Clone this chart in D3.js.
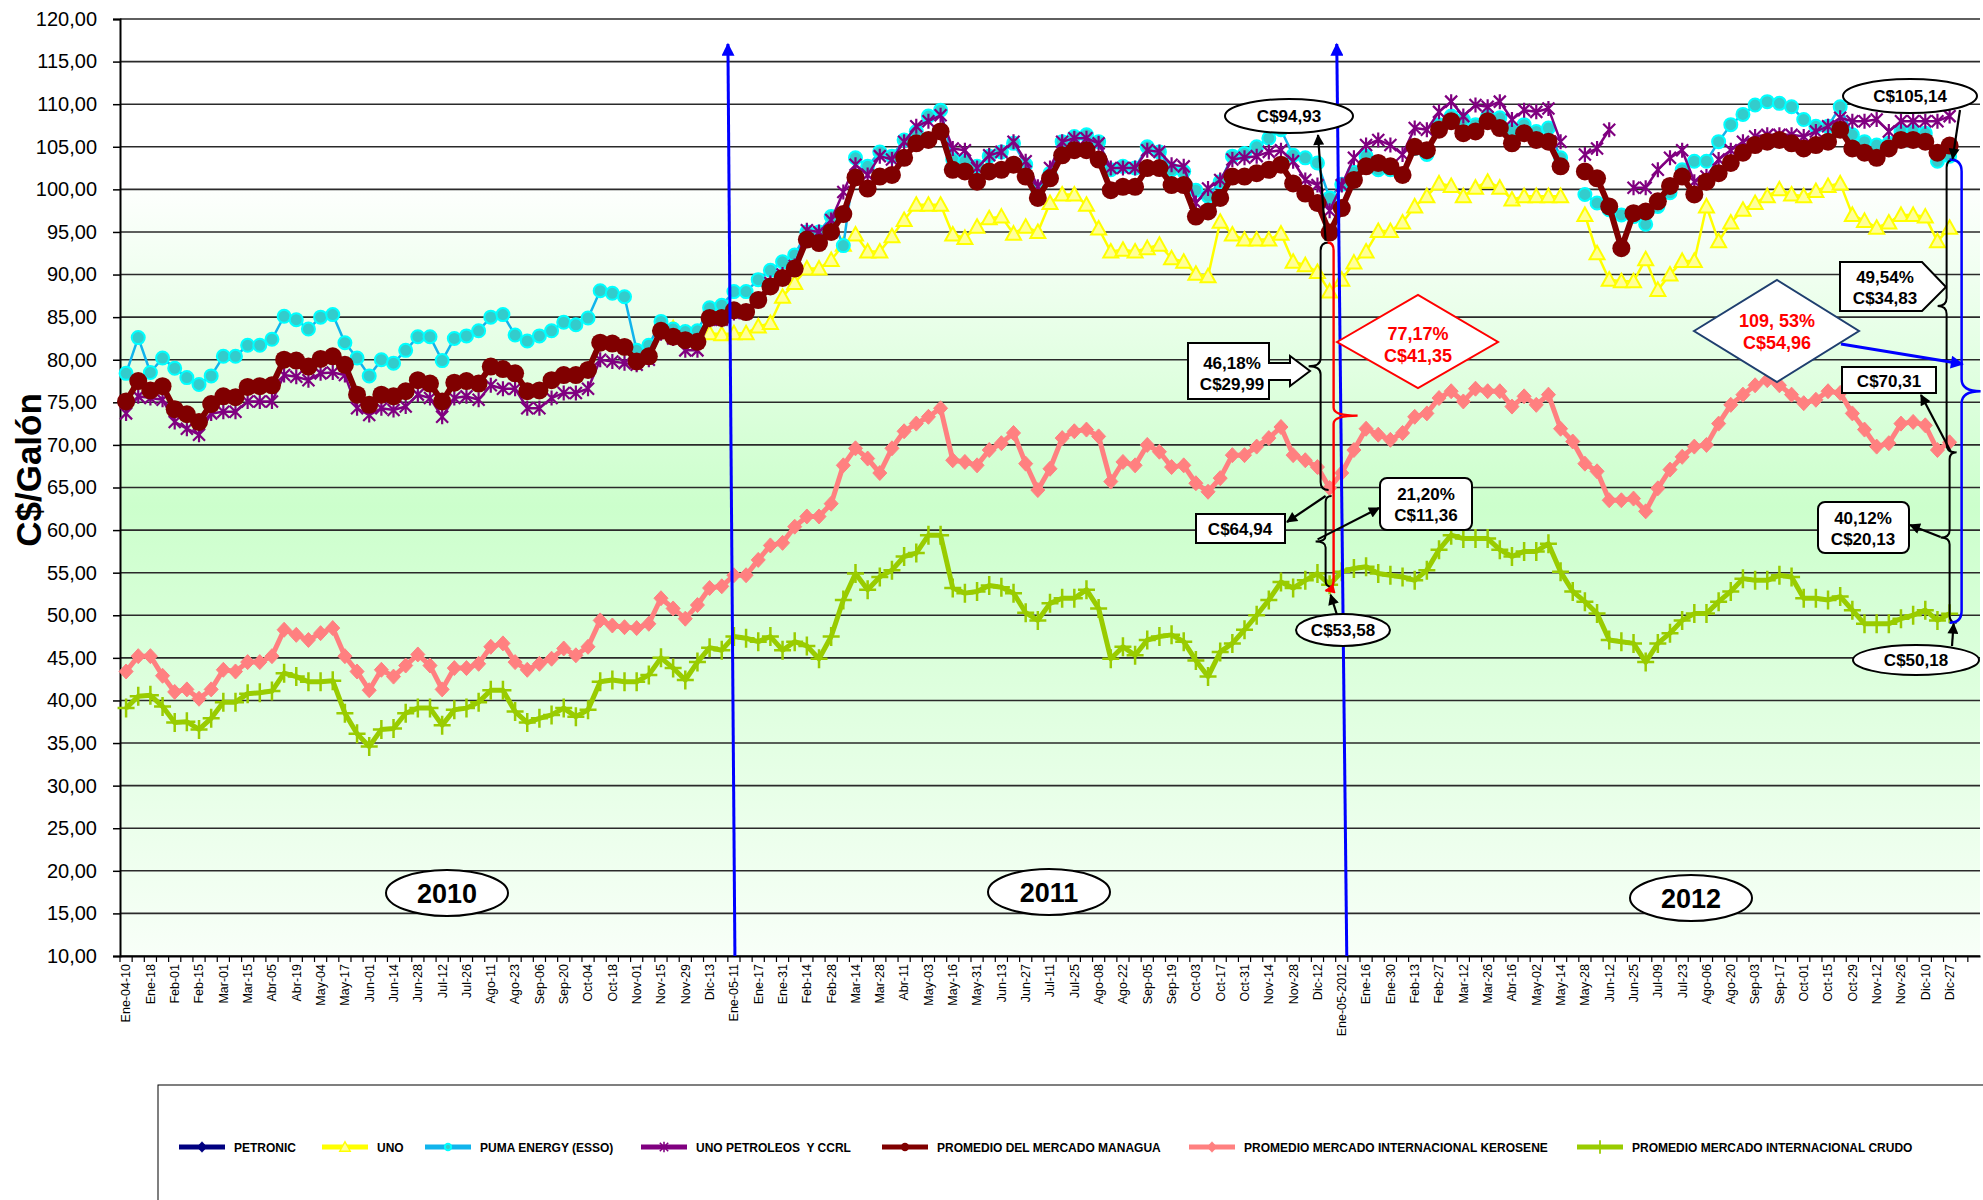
<!DOCTYPE html>
<html><head><meta charset="utf-8">
<script src="https://cdn.jsdelivr.net/npm/d3@7"></script>
<style>
body{margin:0;background:#fff}
svg{display:block}
text{font-family:"Liberation Sans",Arial,Helvetica,sans-serif}
</style>
</head><body>
<svg id="c" width="1983" height="1200"></svg>
<script>
// ---------------- DATA ----------------
const categories = [
"Ene-04-10","Ene-11","Ene-18","Ene-25","Feb-01","Feb-08","Feb-15","Feb-22","Mar-01","Mar-08","Mar-15","Mar-22","Abr-05","Abr-12","Abr-19","Abr-26","May-04","May-10","May-17","May-24","Jun-01","Jun-07","Jun-14","Jun-21","Jun-28","Jul-05","Jul-12","Jul-19","Jul-26","Ago-02","Ago-11","Ago-16","Ago-23","Ago-30","Sep-06","Sep-13","Sep-20","Sep-27","Oct-04","Oct-11","Oct-18","Oct-25","Nov-01","Nov-08","Nov-15","Nov-22","Nov-29","Dic-06","Dic-13","Dic-20",
"Ene-05-11","Ene-10","Ene-17","Ene-24","Ene-31","Feb-07","Feb-14","Feb-21","Feb-28","Mar-07","Mar-14","Mar-21","Mar-28","Abr-04","Abr-11","Abr-25","May-03","May-09","May-16","May-23","May-31","Jun-06","Jun-13","Jun-20","Jun-27","Jul-04","Jul-11","Jul-18","Jul-25","Ago-01","Ago-08","Ago-15","Ago-22","Ago-29","Sep-05","Sep-12","Sep-19","Sep-26","Oct-03","Oct-10","Oct-17","Oct-24","Oct-31","Nov-07","Nov-14","Nov-21","Nov-28","Dic-05","Dic-12","Dic-26",
"Ene-05-2012","Ene-09","Ene-16","Ene-23","Ene-30","Feb-06","Feb-13","Feb-20","Feb-27","Mar-05","Mar-12","Mar-19","Mar-26","Abr-09","Abr-16","Abr-23","May-02","May-07","May-14","May-21","May-28","Jun-04","Jun-12","Jun-18","Jun-25","Jul-02","Jul-09","Jul-16","Jul-23","Jul-30","Ago-06","Ago-13","Ago-20","Ago-27","Sep-03","Sep-10","Sep-17","Sep-24","Oct-01","Oct-08","Oct-15","Oct-22","Oct-29","Nov-05","Nov-12","Nov-19","Nov-26","Dic-03","Dic-10","Dic-17","Dic-27"
];

const petronic = []; // sin valores visibles en el gráfico

const uno = [
null,null,null,null,null,null,null,null,null,null,
null,null,null,null,null,null,null,null,null,null,
null,null,null,null,null,null,null,null,null,null,
null,null,null,null,null,null,null,null,null,null,
null,null,null,null,null,83.7,83.1,83.1,83.1,83.0,
83.1,83.1,83.9,84.3,87.4,89.0,90.7,90.7,91.7,93.5,
94.7,92.7,92.7,94.5,96.4,98.2,98.2,98.2,94.7,94.3,
95.6,96.6,96.8,94.8,95.6,95.0,98.4,99.4,99.4,98.2,
95.4,92.7,92.9,92.7,93.1,93.5,91.9,91.5,90.1,89.8,
96.2,94.7,94.1,94.1,94.1,94.8,91.5,91.1,90.3,88.0,
89.4,91.4,92.7,95.1,95.1,96.1,98.0,99.2,100.7,100.4,
99.2,100.2,100.9,100.2,98.8,99.2,99.2,99.2,99.2,null,
97.0,92.5,89.4,89.2,89.2,91.8,88.2,90.0,91.6,91.6,
98.0,93.9,96.1,97.6,98.4,99.2,100.0,99.4,99.2,99.8,
100.4,100.7,97.0,96.3,95.5,96.1,97.0,97.0,96.8,93.9,
95.5];

const puma = [
78.4,82.6,78.5,80.2,79.0,77.9,77.1,78.1,80.4,80.4,
81.7,81.7,82.4,85.1,84.7,83.6,85.0,85.3,82.0,80.2,
78.1,80.0,79.6,81.1,82.7,82.7,79.9,82.5,82.8,83.4,
85.0,85.3,82.9,82.2,82.8,83.4,84.4,84.1,84.9,88.1,
87.8,87.4,81.1,81.7,84.5,83.6,83.3,83.4,86.1,86.4,
88.0,88.0,89.4,90.5,91.5,92.3,95.0,95.0,96.8,93.4,
103.7,102.7,104.4,103.9,105.8,106.8,108.6,109.3,103.5,103.3,
102.7,103.9,104.4,105.4,102.9,99.9,101.9,105.6,106.2,106.4,
105.6,102.3,102.7,102.5,105.0,104.4,102.3,102.1,99.9,99.2,
100.9,103.9,104.2,105.0,106.0,107.0,104.0,103.7,103.1,99.0,
100.6,102.0,103.9,102.3,102.3,101.7,104.8,104.1,107.6,108.6,
108.2,107.6,108.6,108.4,107.0,107.6,106.8,107.2,103.7,null,
99.4,98.4,97.6,97.0,96.8,95.9,98.0,99.6,102.3,103.3,
103.3,105.6,107.6,108.8,109.9,110.3,110.1,109.7,108.2,107.4,
107.4,109.7,106.4,105.6,105.2,105.4,106.8,106.8,106.6,103.3,
103.9];

const unoPetroleos = [
73.7,75.7,75.5,75.3,72.7,71.9,71.2,73.7,73.9,73.9,
75.1,75.1,75.1,78.2,78.0,77.6,78.4,78.5,78.2,74.3,
73.5,74.3,74.1,74.5,75.9,75.5,73.3,75.5,75.7,75.3,
77.0,76.6,76.6,74.3,74.3,75.5,76.1,76.1,76.6,80.0,
79.8,79.6,79.4,80.0,83.1,82.5,81.1,81.1,84.7,84.7,
85.5,85.5,87.0,89.0,90.0,91.0,95.2,95.0,96.4,99.7,
102.9,101.7,103.9,103.5,105.6,107.4,108.0,108.7,104.8,104.6,
102.5,104.0,104.4,105.6,103.3,100.3,102.5,105.6,106.0,106.0,
105.4,102.5,102.5,102.5,104.6,104.4,102.9,102.7,98.4,100.1,
101.1,103.5,103.7,103.9,104.4,104.6,103.3,101.1,100.5,97.5,
100.5,103.7,105.2,105.8,105.2,104.1,107.2,107.0,109.1,110.3,
108.6,109.9,109.7,110.3,108.2,109.3,109.1,109.5,105.6,null,
104.1,104.8,107.0,null,100.2,100.2,102.3,103.7,104.6,100.9,
101.5,103.5,104.6,105.6,106.2,106.4,106.4,106.4,106.2,106.8,
107.4,108.4,108.0,108.0,108.2,106.8,108.0,108.0,108.0,108.0,
108.6];

const promedioManagua = [
75.1,77.5,76.4,76.9,74.2,73.6,72.7,74.8,75.7,75.6,
76.8,76.9,77.0,80.0,79.9,79.2,80.1,80.4,79.4,75.9,
74.7,75.9,75.7,76.3,77.6,77.2,75.1,77.3,77.5,77.2,
79.2,78.9,78.4,76.3,76.4,77.6,78.2,78.2,78.8,82.0,
81.9,81.5,79.8,80.4,83.4,82.7,82.3,82.1,84.9,84.9,
85.8,85.6,87.0,88.6,89.6,90.7,94.1,93.7,95.0,97.1,
101.4,100.1,101.5,101.7,103.7,105.4,105.8,106.8,102.3,102.1,
100.9,102.1,102.3,102.9,101.5,99.0,101.3,104.0,104.6,104.6,
103.5,99.9,100.3,100.3,102.5,102.5,100.5,100.5,96.8,97.4,
99.0,101.5,101.5,101.9,102.3,102.9,100.7,99.5,98.4,94.93,
97.8,101.1,102.7,103.1,102.7,101.7,105.0,104.6,107.0,108.0,
106.6,106.8,108.0,107.2,105.4,106.6,105.8,105.6,102.7,null,
102.1,101.3,98.0,93.1,97.2,97.4,98.6,100.4,101.5,99.4,
100.9,101.9,103.1,104.3,105.2,105.6,105.8,105.4,104.8,105.2,
105.6,107.0,104.8,104.3,103.7,104.8,105.8,105.8,105.6,104.3,
105.14];

const keroseneInternacional = [
43.4,45.2,45.2,42.9,41.0,41.3,40.2,41.3,43.6,43.4,
44.5,44.5,45.2,48.3,47.7,47.1,47.9,48.5,45.2,43.4,
41.2,43.6,42.8,44.1,45.4,44.1,41.3,43.8,43.8,44.3,
46.3,46.7,44.5,43.6,44.3,44.9,46.1,45.3,46.3,49.4,
48.8,48.6,48.5,49.0,52.0,50.8,49.6,51.2,53.2,53.4,
54.7,54.7,56.5,58.2,58.5,60.4,61.6,61.6,63.1,67.6,
69.6,68.4,66.7,69.6,71.6,72.5,73.3,74.3,68.2,68.0,
67.6,69.4,70.2,71.4,67.8,64.7,67.2,70.8,71.6,71.8,
71.0,65.7,68.0,67.6,70.0,69.2,67.4,67.6,65.5,64.5,
66.1,68.8,68.8,69.8,70.8,72.1,68.8,68.2,67.4,64.94,
66.7,69.4,71.9,71.2,70.6,71.4,73.3,73.7,75.5,76.3,
75.1,76.6,76.3,76.3,74.5,75.7,74.7,75.9,71.9,70.4,
67.8,66.9,63.5,63.5,63.7,62.2,64.9,67.1,68.6,69.8,
70.0,72.5,74.7,75.9,77.0,77.6,77.0,75.9,74.9,75.3,
76.3,76.1,73.7,71.8,69.8,70.2,72.5,72.7,72.3,69.4,
70.31];

const crudoInternacional = [
39.1,40.5,40.6,39.3,37.4,37.5,36.6,37.9,39.8,39.8,
40.8,40.9,41.1,43.2,42.8,42.2,42.2,42.3,38.5,36.1,
34.6,36.6,36.7,38.5,39.1,39.1,37.1,38.9,39.1,39.8,
41.2,41.2,38.7,37.4,37.9,38.3,39.1,38.1,38.9,42.2,
42.4,42.2,42.2,43.0,45.0,43.8,42.4,44.5,46.2,45.9,
47.5,47.3,46.9,47.5,45.9,46.9,46.4,44.9,47.5,51.8,
54.9,53.0,54.5,55.3,56.9,57.3,59.4,59.4,53.2,52.6,
52.8,53.5,53.3,52.6,50.3,49.4,51.4,52.0,52.0,53.0,
50.8,44.9,46.3,45.3,47.1,47.5,47.7,46.9,44.7,42.8,
45.7,46.7,48.3,50.0,51.8,53.9,53.2,54.1,54.9,53.58,
55.1,55.5,55.7,54.9,54.7,54.5,54.1,55.3,57.7,59.4,
59.0,59.0,59.0,57.7,56.9,57.5,57.5,58.4,55.1,52.8,
51.6,50.2,47.1,46.9,46.7,44.5,46.7,47.9,49.4,50.2,
50.2,51.6,52.8,54.3,54.1,54.1,54.7,54.5,52.0,52.0,
51.8,52.2,50.6,49.0,49.0,49.0,49.6,50.0,50.6,49.4,
50.18];

const seriesNames = ["PETRONIC","UNO","PUMA ENERGY (ESSO)","UNO PETROLEOS  Y CCRL","PROMEDIO DEL MERCADO MANAGUA","PROMEDIO MERCADO INTERNACIONAL KEROSENE","PROMEDIO MERCADO INTERNACIONAL CRUDO"];
const yearLabels = ["2010","2011","2012"];
const yTickValues = [10,15,20,25,30,35,40,45,50,55,60,65,70,75,80,85,90,95,100,105,110,115,120];
const yTitle = "C$/Galón";

// annotation texts
const annoTexts = {
  m99:"C$94,93", m150:"C$105,14", c99:"C$53,58", c150:"C$50,18",
  k99:"C$64,94", k150:"C$70,31",
  mk99:["46,18%","C$29,99"], kc99:["21,20%","C$11,36"], mc99:["77,17%","C$41,35"],
  mk150:["49,54%","C$34,83"], kc150:["40,12%","C$20,13"], mc150:["109, 53%","C$54,96"]
};

// ---------------- LAYOUT ----------------
const svg = d3.select("#c");
const L = 120, R = 1980, T = 19, B = 956;
const defs = svg.append("defs");

const bg = defs.append("linearGradient").attr("id","bg").attr("x1",0).attr("y1",0).attr("x2",0).attr("y2",1);
[[0,"#ffffff"],[0.17,"#ffffff"],[0.52,"#ccffcc"],[1,"#f8fff8"]].forEach(s=>bg.append("stop").attr("offset",s[0]).attr("stop-color",s[1]));

function mkArrow(id, color, w, h){
  defs.append("marker").attr("id",id).attr("viewBox","0 0 10 10").attr("refX",9).attr("refY",5)
    .attr("markerWidth",w).attr("markerHeight",h).attr("markerUnits","userSpaceOnUse").attr("orient","auto")
    .append("path").attr("d","M0,0L10,5L0,10Z").attr("fill",color);
}
mkArrow("ahK","#000",14,11);
mkArrow("ahB","#0000ff",20,13);
mkArrow("ahR","#ff0000",12,10);

const x = d3.scaleBand().domain(d3.range(categories.length + 2)).range([L,R]);
const bw = x.bandwidth();
const cx = i => x(i) + bw/2;
const y = d3.scaleLinear().domain([10,120]).range([B,T]);

svg.append("rect").attr("x",L).attr("y",T).attr("width",R-L).attr("height",B-T).attr("fill","url(#bg)");

// gridlines
svg.append("g").selectAll("line").data(yTickValues).join("line")
  .attr("x1",L).attr("x2",R).attr("y1",d=>y(d)).attr("y2",d=>y(d))
  .attr("stroke","#2a2a2a").attr("stroke-width",1.6);

// y axis
const loc = d3.formatLocale({decimal:",",thousands:".",grouping:[3],currency:["",""]});
const fmt = loc.format(".2f");
const yAxis = svg.append("g").attr("transform",`translate(${L},0)`)
  .call(d3.axisLeft(y).tickValues(yTickValues).tickSize(7).tickPadding(16).tickFormat(fmt));
yAxis.select(".domain").attr("stroke","#000").attr("stroke-width",2);
yAxis.selectAll(".tick line").attr("stroke","#000").attr("stroke-width",1.5);
yAxis.selectAll("text").attr("font-size",20).attr("fill","#000").attr("font-family","Liberation Sans, Arial");

svg.append("text").attr("transform",`translate(41,470) rotate(-90)`).attr("text-anchor","middle")
  .attr("font-size",35).attr("font-weight","bold").text(yTitle);

// x axis
const xAxis = svg.append("g").attr("transform",`translate(0,${B})`)
  .call(d3.axisBottom(x).tickValues(d3.range(0,categories.length,2)).tickSize(0).tickFormat(i=>categories[i]));
xAxis.select(".domain").attr("stroke","#000").attr("stroke-width",2);
xAxis.selectAll("text").attr("transform","rotate(-90)").attr("x",-8).attr("y",0).attr("dy","0.35em")
  .attr("text-anchor","end").attr("font-size",12.5).attr("fill","#000");
svg.append("g").selectAll("line").data(x.domain()).join("line")
  .attr("x1",d=>x(d)).attr("x2",d=>x(d)).attr("y1",B).attr("y2",B+6).attr("stroke","#000").attr("stroke-width",1.2);

// ---------------- SERIES ----------------
const asterisk = "M-6,-6L6,6M-6,6L6,-6M0,-7.5L0,7.5";
const plus = "M-8.5,0L8.5,0M0,-9.5L0,9.5";
const tri = "M0,-7.5L7.5,6L-7.5,6Z";
const diamond = "M0,-7.5L7,0L0,7.5L-7,0Z";
const series = [
  {name:seriesNames[0], data:petronic, line:"#000080", lw:3, marker:"diamond", fill:"#000080", stroke:"#000080"},
  {name:seriesNames[1], data:uno, line:"#ffff00", lw:2.5, marker:"tri", fill:"#ffff99", stroke:"#ffff00"},
  {name:seriesNames[2], data:puma, line:"#11b4ec", lw:2.5, marker:"circle", r:6.5, fill:"#33cccc", stroke:"#00ffff"},
  {name:seriesNames[3], data:unoPetroleos, line:"#800080", lw:2.5, marker:"ast", stroke:"#800080"},
  {name:seriesNames[4], data:promedioManagua, line:"#800000", lw:6, marker:"circle", r:9, fill:"#800000", stroke:"#800000"},
  {name:seriesNames[5], data:keroseneInternacional, line:"#ff8080", lw:5, marker:"diamond", fill:"#ff8080", stroke:"#ff8080"},
  {name:seriesNames[6], data:crudoInternacional, line:"#99cc00", lw:5, marker:"plus", stroke:"#99cc00"}
];

function drawMarker(sel, s, scale){
  scale = scale || 1;
  if (s.marker==="circle") {
    sel.append("circle").attr("r",s.r*scale).attr("fill",s.fill).attr("stroke",s.stroke).attr("stroke-width",s.r<8?2:0);
  } else if (s.marker==="tri") {
    sel.append("path").attr("d",tri).attr("transform",`scale(${scale})`).attr("fill",s.fill).attr("stroke",s.stroke).attr("stroke-width",2);
  } else if (s.marker==="ast") {
    sel.append("path").attr("d",asterisk).attr("transform",`scale(${scale})`).attr("fill","none").attr("stroke",s.stroke).attr("stroke-width",2.2);
  } else if (s.marker==="diamond") {
    sel.append("path").attr("d",diamond).attr("transform",`scale(${scale})`).attr("fill",s.fill).attr("stroke",s.stroke).attr("stroke-width",1);
  } else if (s.marker==="plus") {
    sel.append("path").attr("d",plus).attr("transform",`scale(${scale})`).attr("fill","none").attr("stroke",s.stroke).attr("stroke-width",2.5);
  }
}

const lineGen = d3.line().defined(d=>d.v!=null).x(d=>cx(d.i)).y(d=>y(d.v));
const gS = svg.append("g");
series.forEach(s=>{
  const pts = categories.map((c,i)=>({i, v: s.data[i]==null?null:s.data[i]}));
  const g = gS.append("g");
  g.append("path").datum(pts).attr("d",lineGen).attr("fill","none").attr("stroke",s.line)
    .attr("stroke-width",s.lw).attr("stroke-linejoin","round");
  g.selectAll("g.m").data(pts.filter(p=>p.v!=null)).join("g").attr("class","m")
    .attr("transform",p=>`translate(${cx(p.i)},${y(p.v)})`)
    .each(function(){ drawMarker(d3.select(this), s); });
});

// ---------------- ANNOTATIONS ----------------
const A = svg.append("g");
function txt(xx,yy,t,color,size,anchor){
  return A.append("text").attr("x",xx).attr("y",yy).attr("text-anchor",anchor||"middle")
    .attr("font-weight","bold").attr("font-size",size||17).attr("fill",color||"#000").text(t);
}
function ell(xx,yy,rx,ry,t,size){
  A.append("ellipse").attr("cx",xx).attr("cy",yy).attr("rx",rx).attr("ry",ry).attr("fill","#fff").attr("stroke","#000").attr("stroke-width",2);
  txt(xx,yy+size*0.36,t,"#000",size);
}
function arrow(x1,y1,x2,y2,color,mk,w){
  A.append("line").attr("x1",x1).attr("y1",y1).attr("x2",x2).attr("y2",y2)
    .attr("stroke",color).attr("stroke-width",w||2).attr("marker-end",`url(#${mk})`);
}
function brace(xx,y1,y2,dir,depth,r,color,w){
  const ym=(y1+y2)/2, xe=xx-dir*r;
  const d=`M${xe},${y1} Q${xx},${y1} ${xx},${y1+r} L${xx},${ym-r} Q${xx},${ym} ${xx+dir*depth},${ym} Q${xx},${ym} ${xx},${ym+r} L${xx},${y2-r} Q${xx},${y2} ${xe},${y2}`;
  return A.append("path").attr("d",d).attr("fill","none").attr("stroke",color).attr("stroke-width",w||2);
}

// year ellipses
[[447,893],[1049,892],[1691,898]].forEach((p,k)=>ell(p[0],p[1],61,23,yearLabels[k],27));

// blue vertical arrows at year starts
const i11 = categories.indexOf("Ene-05-11"), i12 = categories.indexOf("Ene-05-2012");
arrow(cx(i11)+1, B, cx(i11)-6, 44, "#0000ff","ahB",3);
arrow(cx(i12)+5, B, cx(i12)-5, 44, "#0000ff","ahB",3);

// points of reference
const iA = categories.indexOf("Dic-26"), iB = categories.length-1;
const pM1 = [cx(iA), y(promedioManagua[iA])], pK1=[cx(iA), y(keroseneInternacional[iA])], pC1=[cx(iA), y(crudoInternacional[iA])];
const pM2 = [cx(iB), y(promedioManagua[iB])], pK2=[cx(iB), y(keroseneInternacional[iB])], pC2=[cx(iB), y(crudoInternacional[iB])];

// left group (Dic-2011)
brace(pM1[0]-9, pM1[1]+10, pK1[1]+2, -1, 12, 8, "#000", 2);
brace(pK1[0]-4, pK1[1]+8, pC1[1]+2, -1, 10, 6, "#000", 2);
// red brace
(function(){
  const xx=pM1[0]+4, y1=pM1[1]+10, y2=pC1[1]+4, ym=(y1+y2)/2, r=8;
  const d=`M${xx-6},${y1} Q${xx},${y1} ${xx},${y1+r} L${xx},${ym-r} Q${xx},${ym} ${xx+24},${ym} Q${xx},${ym} ${xx},${ym+r} L${xx},${y2-r} Q${xx},${y2} ${xx-8},${y2+2}`;
  A.append("path").attr("d",d).attr("fill","none").attr("stroke","#ff0000").attr("stroke-width",2.4).attr("marker-end","url(#ahR)");
})();
// C$94,93
arrow(pM1[0]-4, pM1[1]+8, 1318, 135, "#000","ahK",2.2);
ell(1289,116,64,17,annoTexts.m99,17);
// 46,18% callout
A.append("path").attr("d","M1188,343 L1269,343 L1269,363 L1290,363 L1290,356 L1310,371 L1290,386 L1290,380 L1269,380 L1269,399 L1188,399 Z")
  .attr("fill","#fff").attr("stroke","#000").attr("stroke-width",2);
txt(1232,369,annoTexts.mk99[0]); txt(1232,390,annoTexts.mk99[1]);
// C$64,94 box
arrow(pK1[0]-4, pK1[1]+8, 1287, 522, "#000","ahK",2.2);
A.append("rect").attr("x",1196).attr("y",514).attr("width",89).attr("height",29).attr("fill","#fff").attr("stroke","#000").attr("stroke-width",2);
txt(1240,535,annoTexts.k99);
// 21,20% box
arrow(pK1[0]-12, (pK1[1]+pC1[1])/2+3, 1379, 508, "#000","ahK",2.2);
A.append("rect").attr("x",1380).attr("y",478).attr("width",92).attr("height",52).attr("rx",7).attr("fill","#fff").attr("stroke","#000").attr("stroke-width",2);
txt(1426,500,annoTexts.kc99[0]); txt(1426,521,annoTexts.kc99[1]);
// C$53,58
arrow(1337,615, pC1[0]+1, pC1[1]+10, "#000","ahK",2.2);
ell(1343,630,47,16,annoTexts.c99,17);
// red diamond
A.append("path").attr("d","M1337,342 L1418,295 L1498,342 L1418,388 Z").attr("fill","#fff").attr("stroke","#ff0000").attr("stroke-width",2);
txt(1418,340,annoTexts.mc99[0],"#ff0000",18); txt(1418,362,annoTexts.mc99[1],"#ff0000",18);

// right group (Dic-2012)
brace(pM2[0]-3, pM2[1]+14, pK2[1]+10, -1, 9, 8, "#000", 2);
brace(pK2[0], pK2[1]+10, pC2[1]+9, -1, 9, 7, "#000", 2);
brace(pM2[0]+12, pM2[1]+14, pC2[1]+9, 1, 19, 12, "#0000ff", 2.5);
// C$105,14
arrow(1960,110, pM2[0]+3, pM2[1]+13, "#000","ahK",2.2);
ell(1910,96,67,17,annoTexts.m150,17);
// 49,54% callout (pentagon)
A.append("path").attr("d","M1840,262 L1922,262 L1946,287 L1922,311 L1840,311 Z").attr("fill","#fff").attr("stroke","#000").attr("stroke-width",2);
txt(1885,283,annoTexts.mk150[0]); txt(1885,304,annoTexts.mk150[1]);
// C$70,31
arrow(pK2[0]+1, pK2[1]+9, 1921, 395, "#000","ahK",2.2);
A.append("rect").attr("x",1842).attr("y",367).attr("width",94).attr("height",26).attr("fill","#fff").attr("stroke","#000").attr("stroke-width",2);
txt(1889,387,annoTexts.k150);
// 40,12%
arrow(pK2[0]-9, (pK2[1]+pC2[1])/2+9, 1910, 525, "#000","ahK",2.2);
A.append("rect").attr("x",1818).attr("y",502).attr("width",91).attr("height",51).attr("rx",7).attr("fill","#fff").attr("stroke","#000").attr("stroke-width",2);
txt(1863,524,annoTexts.kc150[0]); txt(1863,545,annoTexts.kc150[1]);
// C$50,18
arrow(1952,646, pC2[0]+4, pC2[1]+10, "#000","ahK",2.2);
ell(1916,660,63,15,annoTexts.c150,17);
// blue diamond
arrow(1841,344, pM2[0]+13, 364, "#0000ff","ahB",3);
A.append("path").attr("d","M1694,331 L1777,280 L1859,331 L1777,382 Z").attr("fill","#fff").attr("stroke","#1f3f6f").attr("stroke-width",2);
txt(1777,327,annoTexts.mc150[0],"#ff0000",18); txt(1777,349,annoTexts.mc150[1],"#ff0000",18);

// ---------------- LEGEND ----------------
svg.append("rect").attr("x",158).attr("y",1085).attr("width",1850).attr("height",140).attr("fill","#fff").attr("stroke","#000").attr("stroke-width",1);
const legendX = [179, 322, 425, 641, 882, 1189, 1577];
const ly = 1147;
series.forEach((s,k)=>{
  const lx = legendX[k];
  const g = svg.append("g");
  g.append("line").attr("x1",lx).attr("x2",lx+46).attr("y1",ly).attr("y2",ly).attr("stroke",s.line).attr("stroke-width",5);
  const m = g.append("g").attr("transform",`translate(${lx+23},${ly})`);
  drawMarker(m, Object.assign({}, s, {r: 4.5}), 0.7);
  g.append("text").attr("x",lx+55).attr("y",ly+4.5).attr("font-size",12).attr("font-weight","bold")
    .attr("fill","#000").style("white-space","pre").text(s.name);
});
</script>
</body></html>
